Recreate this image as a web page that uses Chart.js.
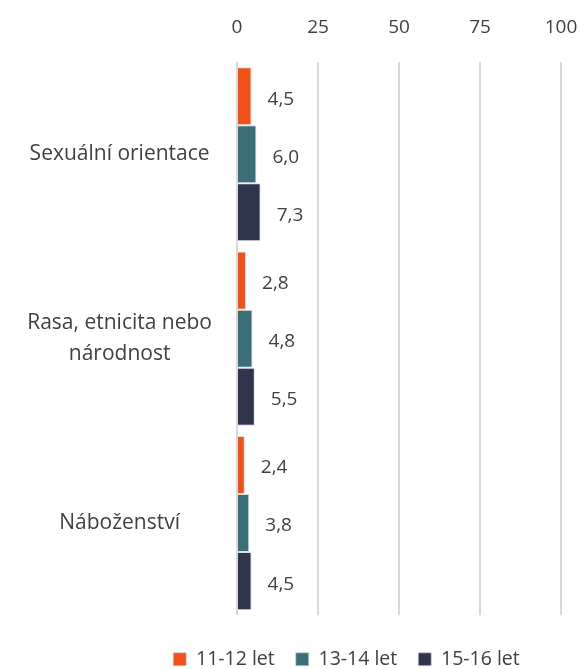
<!DOCTYPE html>
<html>
<head>
<meta charset="utf-8">
<script src="https://cdn.jsdelivr.net/npm/chart.js@4/dist/chart.umd.min.js"></script>
<style>
html,body{margin:0;padding:0;background:#fff;}
#wrap{width:579px;height:669px;position:relative;}
</style>
</head>
<body>
<div id="wrap"><canvas id="c"></canvas></div>
<script>
const categories = ['Sexuální orientace', ['Rasa, etnicita nebo', 'národnost'], 'Náboženství'];
const seriesNames = ['11-12 let', '13-14 let', '15-16 let'];
const values1112 = [4.5, 2.8, 2.4];
const values1314 = [6.0, 4.8, 3.8];
const values1516 = [7.3, 5.5, 4.5];
const xTicks = [0, 25, 50, 75, 100];
const colors = ['#F25019', '#3A6E78', '#2E354D'];

const FONT = "'Open Sans', 'Noto Sans', sans-serif";
const TXT = '#404040';

const labelPlugin = {
  id: 'valueLabels',
  afterLayout(chart) {
    if (chart.legend) { chart.legend.left += 114; }
  },
  afterDatasetsDraw(chart) {
    const ctx = chart.ctx;
    ctx.save();
    ctx.font = '19px ' + FONT;
    ctx.fillStyle = TXT;
    ctx.textAlign = 'left';
    ctx.textBaseline = 'middle';
    chart.data.datasets.forEach((ds, i) => {
      const meta = chart.getDatasetMeta(i);
      meta.data.forEach((el, j) => {
        const v = ds.data[j];
        ctx.fillText(v.toFixed(1).replace('.', ','), el.x + 16, el.y + 3);
      });
    });
    ctx.restore();
  }
};

new Chart(document.getElementById('c'), {
  type: 'bar',
  data: {
    labels: categories,
    datasets: [
      { label: seriesNames[0], data: values1112, backgroundColor: colors[0] },
      { label: seriesNames[1], data: values1314, backgroundColor: colors[1] },
      { label: seriesNames[2], data: values1516, backgroundColor: colors[2] }
    ].map(d => Object.assign(d, { borderColor: 'rgba(210,210,210,0.7)', borderWidth: 1, barPercentage: 1, categoryPercentage: 0.944 }))
  },
  options: {
    indexAxis: 'y',
    responsive: true,
    maintainAspectRatio: false,
    animation: false,
    layout: { padding: { left: 0, right: 0, top: 15, bottom: -10 } },
    scales: {
      x: {
        position: 'top',
        min: 0, max: 100,
        afterBuildTicks(scale) { scale.ticks = xTicks.map(v => ({ value: v })); },
        afterFit(scale) { scale.height = 47; scale.paddingRight = 18; },
        grid: { color: '#D9D9D9', lineWidth: 2, drawTicks: false },
        border: { display: false },
        ticks: { color: TXT, font: { family: FONT, size: 19 }, padding: 23 }
      },
      y: {
        afterFit(scale) { scale.width = 237; },
        grid: { display: false, drawTicks: false },
        border: { display: false },
        ticks: { color: TXT, font: { family: FONT, size: 21, lineHeight: 1.45 }, padding: 25, crossAlign: 'center' }
      }
    },
    plugins: {
      legend: {
        position: 'bottom',
        title: { display: true, text: '', padding: 0, font: { size: 11 } },
        labels: {
          color: TXT,
          font: { family: FONT, size: 19.5 },
          boxWidth: 13, boxHeight: 13,
          padding: 21,
          useBorderRadius: false
        }
      },
      tooltip: { enabled: false }
    }
  },
  plugins: [labelPlugin]
});
</script>
</body>
</html>
